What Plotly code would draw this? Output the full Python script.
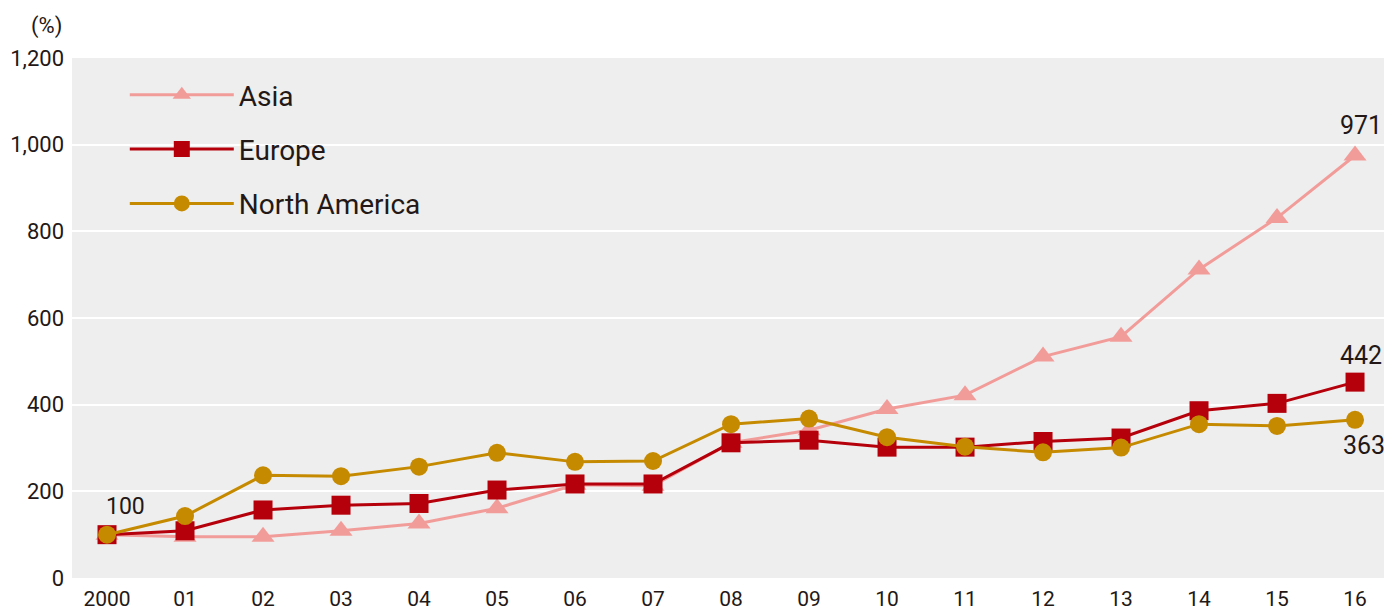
import plotly.graph_objects as go

years = ["2000", "01", "02", "03", "04", "05", "06", "07", "08", "09",
         "10", "11", "12", "13", "14", "15", "16"]
asia = [100, 95, 95, 109, 126, 161, 215, 213, 312, 341, 390, 422, 511, 557, 712, 831, 975]
europe = [100, 109, 157, 168, 172, 203, 217, 217, 312, 318, 302, 302, 315, 323, 386, 403, 452]
north_america = [100, 143, 237, 235, 257, 289, 268, 270, 355, 368, 325, 303, 290, 301, 355, 351, 365]
y_ticks = [0, 200, 400, 600, 800, 1000, 1200]
y_tick_labels = ["0", "200", "400", "600", "800", "1,000", "1,200"]
end_labels = ["100", "971", "442", "363"]

FONT = "Roboto, sans-serif"
TXT = "#231815"
xs = list(range(len(years)))

fig = go.Figure()
fig.add_trace(go.Scatter(x=xs, y=asia, name="Asia", mode="lines+markers", legendgroup="a",
                         line=dict(color="#F29C9A", width=3),
                         marker=dict(symbol="triangle-up", size=20, color="#F29C9A")))
fig.add_trace(go.Scatter(x=xs, y=europe, name="Europe", mode="lines+markers", legendgroup="e",
                         line=dict(color="#B5000B", width=3),
                         marker=dict(symbol="square", size=19, color="#B5000B")))
fig.add_trace(go.Scatter(x=xs, y=north_america, name="North America", mode="lines+markers",
                         legendgroup="n",
                         line=dict(color="#C68A00", width=3),
                         marker=dict(symbol="circle", size=18, color="#C68A00")))

annos = [
    dict(x=xs[0], y=europe[0], text=end_labels[0], xshift=18, yshift=28, size=23),
    dict(x=xs[-1], y=asia[-1], text=end_labels[1], xshift=6, yshift=30, size=25),
    dict(x=xs[-1], y=europe[-1], text=end_labels[2], xshift=6, yshift=27, size=25),
    dict(x=xs[-1], y=north_america[-1], text=end_labels[3], xshift=9, yshift=-26, size=25),
]
for a in annos:
    fig.add_annotation(x=a["x"], y=a["y"], xref="x", yref="y", text=a["text"],
                       showarrow=False, xshift=a["xshift"], yshift=a["yshift"],
                       font=dict(family=FONT, size=a["size"], color=TXT))
fig.add_annotation(x=-26 / 1320, y=1.0615, xref="paper", yref="paper", text="(%)",
                   showarrow=False, xanchor="center", yanchor="middle",
                   font=dict(family=FONT, size=22, color=TXT))

fig.update_layout(
    width=1384, height=602,
    margin=dict(l=64, r=0, t=50, b=32),
    paper_bgcolor="white", plot_bgcolor="#EEEEEE",
    font=dict(family=FONT, color=TXT, size=20),
    showlegend=True,
    legend=dict(x=0.04, y=0.977, xanchor="left", yanchor="top",
                bgcolor="rgba(0,0,0,0)", font=dict(size=28, color=TXT, family=FONT),
                itemwidth=104, tracegroupgap=15),
    xaxis=dict(tickmode="array", tickvals=xs, ticktext=years, automargin=False,
               range=[-0.449, 16.474], showgrid=False, zeroline=False,
               showline=False, ticks="", tickfont=dict(size=21), ticklabelstandoff=6),
    yaxis=dict(tickmode="array", tickvals=y_ticks, ticktext=y_tick_labels, automargin=False,
               range=[0, 1200], showgrid=True, gridcolor="white", gridwidth=2,
               zeroline=False, showline=False, ticks="", tickfont=dict(size=22),
               ticklabelstandoff=7),
)

fig.write_html("out.html")
